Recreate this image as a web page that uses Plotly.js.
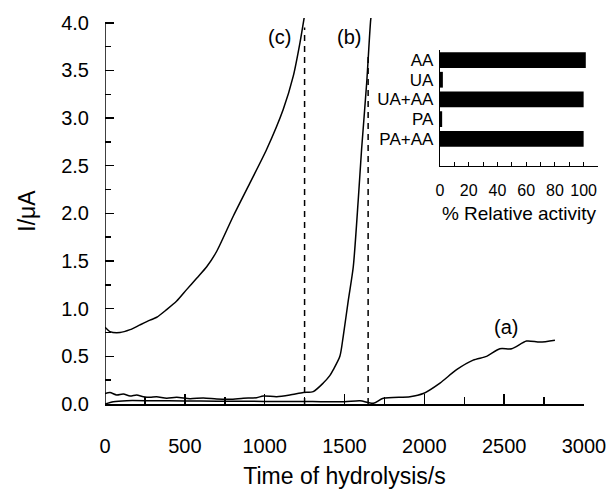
<!DOCTYPE html>
<html>
<head>
<meta charset="utf-8">
<script src="https://cdn.plot.ly/plotly-3.0.1.min.js"></script>
<style>html,body{margin:0;padding:0;background:#fff;}#chart{width:607px;height:489px;}</style>
</head>
<body>
<div id="chart"></div>
<script>
// ---- Main chart data (time in s, current in µA) ----
const timeA = [0, 52, 136, 300, 500, 700, 900, 1100, 1300, 1500, 1597, 1680, 1743, 1910, 1993, 2098, 2202, 2306, 2390, 2473, 2547, 2640, 2724, 2818];
const currentA = [0.0, 0.024, 0.035, 0.034, 0.032, 0.030, 0.028, 0.027, 0.025, 0.024, 0.035, 0.007, 0.06, 0.077, 0.11, 0.22, 0.36, 0.46, 0.50, 0.58, 0.58, 0.66, 0.65, 0.67];

const timeB = [0, 31, 73, 115, 157, 198, 240, 282, 323, 386, 449, 532, 616, 699, 783, 866, 950, 991, 1075, 1158, 1242, 1304, 1367, 1409, 1430, 1471, 1492, 1524, 1555, 1586, 1607, 1639, 1664, 1670];
const currentB = [0.11, 0.12, 0.095, 0.105, 0.084, 0.095, 0.077, 0.07, 0.077, 0.06, 0.07, 0.056, 0.063, 0.052, 0.049, 0.06, 0.066, 0.084, 0.077, 0.094, 0.12, 0.13, 0.22, 0.30, 0.36, 0.50, 0.71, 1.09, 1.44, 2.14, 2.67, 3.37, 4.03, 4.1];

const timeC = [0, 31, 94, 157, 219, 282, 324, 386, 449, 511, 574, 637, 699, 803, 908, 1012, 1116, 1179, 1221, 1252];
const currentC = [0.805, 0.76, 0.75, 0.78, 0.83, 0.88, 0.91, 0.99, 1.08, 1.20, 1.32, 1.44, 1.60, 1.97, 2.32, 2.67, 3.09, 3.44, 3.79, 4.1];

// Dashed markers of the end points for (c) and (b)
const endTimes = [1250, 1648];
const endTops = [3.95, 3.65];

// ---- Inset data ----
const inhibitors = ['AA', 'UA', 'UA+AA', 'PA', 'PA+AA'];
const relActivity = [101.5, 2, 100, 1.5, 100];

const FONT = 'Liberation Sans, Arial, Helvetica, sans-serif';
const line = {color: '#000', width: 1.5, shape: 'spline', smoothing: 0.7};

const traces = [
  {x: timeA, y: currentA, type: 'scatter', mode: 'lines', line: line, xaxis: 'x', yaxis: 'y'},
  {x: timeB, y: currentB, type: 'scatter', mode: 'lines', line: line, xaxis: 'x', yaxis: 'y'},
  {x: timeC, y: currentC, type: 'scatter', mode: 'lines', line: line, xaxis: 'x', yaxis: 'y'},
  {x: [endTimes[0], endTimes[0]], y: [0, endTops[0]], type: 'scatter', mode: 'lines', line: {color: '#000', width: 1.5, dash: '6px,5px'}, xaxis: 'x', yaxis: 'y'},
  {x: [endTimes[1], endTimes[1]], y: [0, endTops[1]], type: 'scatter', mode: 'lines', line: {color: '#000', width: 1.5, dash: '6px,5px'}, xaxis: 'x', yaxis: 'y'},
  {x: relActivity, y: inhibitors, type: 'bar', orientation: 'h', width: 0.8, marker: {color: '#000', line: {width: 0}}, xaxis: 'x2', yaxis: 'y2'}
];

// plot area: paper from x=105 to 598, y from 18 to 404
const L = 105, R = 9, T = 18, B = 85;
const PW = 607 - L - R, PH = 489 - T - B;

const layout = {
  width: 607, height: 489,
  margin: {l: L, r: R, t: T, b: B, pad: 0},
  paper_bgcolor: '#fff', plot_bgcolor: 'rgba(0,0,0,0)',
  showlegend: false,
  font: {family: FONT, color: '#000'},
  xaxis: {
    domain: [0, (584 - L) / PW], range: [0, 3000],
    showline: true, linecolor: '#000', linewidth: 1.5,
    showgrid: false, zeroline: false,
    ticks: 'inside', ticklen: 10, tickwidth: 1.5, tickcolor: '#000', dtick: 500, tick0: 0,
    minor: {ticks: 'inside', ticklen: 7, dtick: 250, tickwidth: 1.5, tickcolor: '#000', showgrid: false},
    tickfont: {size: 20, family: FONT}, ticklabelstandoff: 23,
    title: {text: 'Time of hydrolysis/s', font: {size: 23, family: FONT}, standoff: 13},
    automargin: false, anchor: 'y'
  },
  yaxis: {
    domain: [0, 1], range: [0, 4.05],
    showline: false, showgrid: false, zeroline: false,
    ticks: 'inside', ticklen: 9, tickwidth: 1.5, tickcolor: '#000',
    tickmode: 'array', tickvals: [0, 0.5, 1, 1.5, 2, 2.5, 3, 3.5, 4],
    minor: {ticks: 'inside', ticklen: 6, tickvals: [0.25, 0.75, 1.25, 1.75, 2.25, 2.75, 3.25, 3.75], tickwidth: 1.5, tickcolor: '#000', showgrid: false},
    tickformat: '.1f',
    tickfont: {size: 20, family: FONT}, ticklabelstandoff: 15,
    title: {text: 'I/μA', font: {size: 23, family: FONT}, standoff: 19},
    automargin: false, anchor: 'x'
  },
  xaxis2: {
    domain: [(440 - L) / PW, 1], range: [0, 110],
    showline: true, linecolor: '#000', linewidth: 1.2,
    showgrid: false, zeroline: false,
    ticks: 'inside', ticklen: 4, tickwidth: 1, tickcolor: '#000',
    tickmode: 'array', tickvals: [0, 20, 40, 60, 80, 100],
    minor: {ticks: 'inside', ticklen: 4, tickvals: [10, 30, 50, 70, 90, 110], tickwidth: 1, tickcolor: '#000', showgrid: false},
    tickfont: {size: 16, family: FONT}, ticklabelstandoff: 10,
    title: {text: '% Relative activity', font: {size: 19, family: FONT}, standoff: 8},
    automargin: false, anchor: 'y2'
  },
  yaxis2: {
    domain: [(404 - 166) / PH, (404 - 50) / PH],
    type: 'category', categoryorder: 'array', categoryarray: inhibitors,
    tickmode: 'array', tickvals: inhibitors, ticktext: inhibitors,
    range: [5.38, -0.51],
    showline: true, linecolor: '#000', linewidth: 1.2,
    showgrid: false, zeroline: false, ticks: '',
    tickfont: {size: 17, family: FONT}, ticklabelstandoff: 2,
    automargin: false, anchor: 'x2'
  },
  shapes: [
    {type: 'line', xref: 'x', yref: 'y', x0: 0, x1: 0, y0: 0, y1: 4.0, line: {color: '#000', width: 1.5}}
  ],
  annotations: [
    {text: '(c)', x: 1090, y: 3.85, xref: 'x', yref: 'y', showarrow: false, font: {size: 20, family: FONT}},
    {text: '(b)', x: 1531, y: 3.85, xref: 'x', yref: 'y', showarrow: false, font: {size: 20, family: FONT}},
    {text: '(a)', x: 2511, y: 0.81, xref: 'x', yref: 'y', showarrow: false, font: {size: 20, family: FONT}}
  ]
};

Plotly.newPlot('chart', traces, layout, {staticPlot: true, displayModeBar: false});
</script>
</body>
</html>
